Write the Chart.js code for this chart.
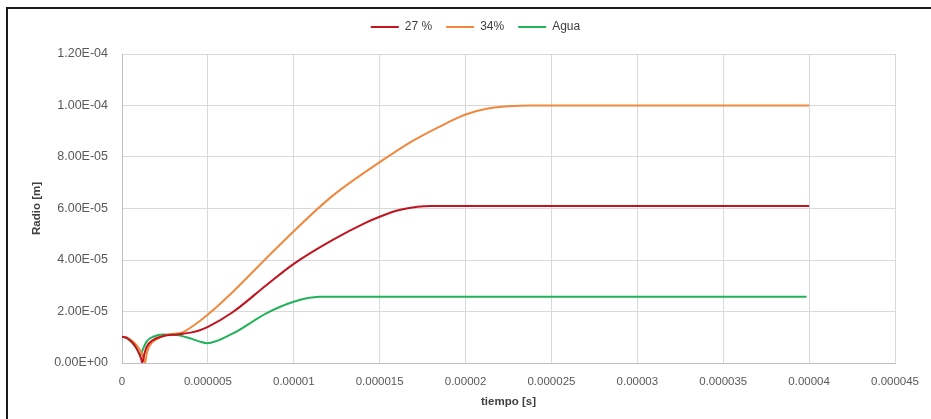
<!DOCTYPE html>
<html>
<head>
<meta charset="utf-8">
<script src="https://cdn.jsdelivr.net/npm/chart.js@4"></script>
<style>
  html, body { margin: 0; padding: 0; background: #fff; }
  #wrap { position: relative; width: 931px; height: 419px; overflow: hidden; }
  #frame { position: absolute; left: 6px; top: 7px; width: 1200px; height: 800px;
           border-left: 2px solid #1a1a1a; border-top: 2px solid #1a1a1a; }
  canvas { position: absolute; left: 0; top: 0; }
</style>
</head>
<body>
<div id="wrap">
  <div id="frame"></div>
  <canvas id="c" width="931" height="419"></canvas>
</div>
<script>
// Bubble radius vs. time for two concentrations and water
const t27 = [0, 0.3e-6, 0.6e-6, 0.9e-6, 1.1e-6, 1.18e-6, 1.3e-6, 1.45e-6, 1.8e-6, 2.4e-6, 3.2e-6, 3.56e-6, 4.0e-6, 4.53e-6, 5.0e-6, 6.46e-6, 8.4e-6, 1.0e-5, 1.227e-5, 1.42e-5, 1.5e-5, 1.614e-5, 1.72e-5, 1.8e-5, 2.5e-5, 3.0e-5, 4.0e-5];
const r27 = [1.02e-5, 9.7e-6, 8.0e-6, 5.0e-6, 2.0e-6, 0.05e-6, 3.5e-6, 6.4e-6, 8.9e-6, 1.05e-5, 1.11e-5, 1.14e-5, 1.18e-5, 1.27e-5, 1.4e-5, 1.98e-5, 3.02e-5, 3.85e-5, 4.78e-5, 5.45e-5, 5.68e-5, 5.94e-5, 6.07e-5, 6.1e-5, 6.1e-5, 6.1e-5, 6.1e-5];

const t34 = [0, 0.3e-6, 0.6e-6, 0.9e-6, 1.15e-6, 1.26e-6, 1.34e-6, 1.45e-6, 1.63e-6, 2.0e-6, 2.6e-6, 3.56e-6, 4.0e-6, 4.53e-6, 5.0e-6, 6.46e-6, 8.4e-6, 1.0e-5, 1.227e-5, 1.5e-5, 1.69e-5, 1.885e-5, 2.0e-5, 2.137e-5, 2.25e-5, 2.38e-5, 3.0e-5, 4.0e-5];
const r34 = [1.02e-5, 9.8e-6, 8.5e-6, 6.5e-6, 3.8e-6, 2.0e-6, 0.05e-6, 4.0e-6, 7.0e-6, 9.2e-6, 1.09e-5, 1.2e-5, 1.38e-5, 1.63e-5, 1.88e-5, 2.77e-5, 4.07e-5, 5.12e-5, 6.5e-5, 7.8e-5, 8.62e-5, 9.3e-5, 9.65e-5, 9.89e-5, 9.97e-5, 1.0e-4, 1.0e-4, 1.0e-4];

const tAgua = [0, 0.3e-6, 0.6e-6, 0.85e-6, 1.0e-6, 1.08e-6, 1.2e-6, 1.43e-6, 1.82e-6, 2.4e-6, 3.18e-6, 3.95e-6, 4.53e-6, 4.95e-6, 6.46e-6, 8.4e-6, 1.0e-5, 1.15e-5, 1.25e-5, 2.0e-5, 3.0e-5, 3.985e-5];
const rAgua = [1.02e-5, 9.6e-6, 7.8e-6, 5.7e-6, 3.6e-6, 2.8e-6, 5.0e-6, 8.3e-6, 1.02e-5, 1.11e-5, 1.09e-5, 9.6e-6, 8.3e-6, 7.7e-6, 1.15e-5, 1.93e-5, 2.38e-5, 2.57e-5, 2.575e-5, 2.575e-5, 2.575e-5, 2.575e-5];

const seriesNames = ['27 %', '34%', 'Agua'];

const xTickValues = [0, 5e-6, 1e-5, 1.5e-5, 2e-5, 2.5e-5, 3e-5, 3.5e-5, 4e-5, 4.5e-5];
const xTickLabels = ['0', '0.000005', '0.00001', '0.000015', '0.00002', '0.000025', '0.00003', '0.000035', '0.00004', '0.000045'];
const yTickValues = [0, 2e-5, 4e-5, 6e-5, 8e-5, 1e-4, 1.2e-4];
const yTickLabels = ['0.00E+00', '2.00E-05', '4.00E-05', '6.00E-05', '8.00E-05', '1.00E-04', '1.20E-04'];

const toPoints = (ts, rs) => ts.map((t, i) => ({ x: t, y: rs[i] }));

const FONT = "'Liberation Sans', Arial, sans-serif";
const TEXT = '#595959';

const lineStyle = (color) => ({
  borderColor: color, backgroundColor: color, borderWidth: 2,
  pointRadius: 0, pointHoverRadius: 0, fill: false,
  cubicInterpolationMode: 'monotone'
});

// Extra room under the legend, and legend nudged right of the plot centre
const legendSpacing = {
  id: 'legendSpacing',
  beforeInit(chart) {
    const fit = chart.legend.fit;
    chart.legend.fit = function () { fit.call(this); this.height += 11; };
  },
  afterLayout(chart) {
    chart.legend.left += 22;
    chart.legend.right += 22;
  }
};

new Chart(document.getElementById('c'), {
  type: 'line',
  data: {
    datasets: [
      { label: seriesNames[0], data: toPoints(t27, r27), ...lineStyle('#C0141F') },
      { label: seriesNames[1], data: toPoints(t34, r34), ...lineStyle('#F0883E') },
      { label: seriesNames[2], data: toPoints(tAgua, rAgua), ...lineStyle('#22B25A') }
    ]
  },
  plugins: [legendSpacing],
  options: {
    responsive: false,
    animation: false,
    layout: { padding: { left: 10, top: 7, right: 34, bottom: 0 } },
    plugins: {
      tooltip: { enabled: false },
      legend: {
        position: 'top',
        labels: {
          usePointStyle: true, pointStyle: 'line', pointStyleWidth: 28,
          boxHeight: 2, padding: 14, color: '#404040',
          font: { family: FONT, size: 12 }
        }
      }
    },
    scales: {
      x: {
        type: 'linear', min: 0, max: 4.5e-5,
        afterBuildTicks: (s) => { s.ticks = xTickValues.map(v => ({ value: v })); },
        afterFit: (s) => { s.height = 56; },
        ticks: {
          padding: 12, color: TEXT, maxRotation: 0, autoSkip: false,
          font: { family: FONT, size: 11.5 },
          callback: (v, i) => xTickLabels[i]
        },
        grid: { color: '#d9d9d9', drawTicks: false },
        border: { color: '#bfbfbf' },
        title: {
          display: true, text: 'tiempo [s]', color: '#404040',
          font: { family: FONT, size: 11.5, weight: 'bold' },
          padding: { top: 4, bottom: 10 }
        }
      },
      y: {
        min: 0, max: 1.2e-4,
        afterBuildTicks: (s) => { s.ticks = yTickValues.map(v => ({ value: v })); },
        afterFit: (s) => { s.width = 112; },
        ticks: {
          padding: 14, color: TEXT, autoSkip: false,
          font: { family: FONT, size: 12.5 },
          callback: (v, i) => yTickLabels[i]
        },
        grid: { color: '#d9d9d9', drawTicks: false },
        border: { color: '#bfbfbf' },
        title: {
          display: true, text: 'Radio [m]', color: '#404040',
          font: { family: FONT, size: 11.5, weight: 'bold' },
          padding: { top: 20, bottom: 4 }
        }
      }
    }
  }
});
</script>
</body>
</html>
